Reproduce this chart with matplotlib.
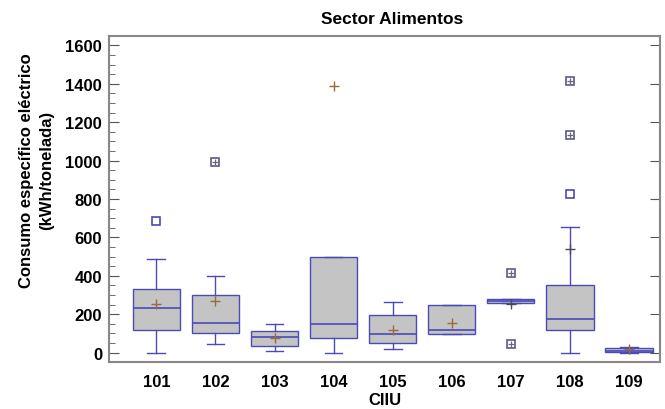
import numpy as np
import matplotlib.pyplot as plt
from matplotlib.ticker import MultipleLocator

plt.rcParams['font.family'] = ['Liberation Sans', 'DejaVu Sans']
plt.rcParams['font.weight'] = 'bold'

# resumen por código CIIU (kWh/tonelada)
ciiu = ['101', '102', '103', '104', '105', '106', '107', '108', '109']
whislo = [0, 43, 7, 0, 19, 97, 258, 0, 0]
q1 = [118, 101, 33, 78, 52, 97, 258, 118, 3]
med = [232, 156, 80, 151, 95, 116, 269, 177, 8]
q3 = [331, 300, 115, 498, 198, 250, 278, 354, 26]
whishi = [489, 401, 147, 498, 264, 250, 278, 656, 30]
mean = [255, 267, 76, 1388, 118, 154, 253, 541, 17]

# atípicos (cuadro) y atípicos lejanos (cuadro con cruz)
out_cat = ['101', '108']
out_val = [687, 829]
far_cat = ['102', '107', '107', '108', '108']
far_val = [991, 415, 43, 1135, 1414]

blue = '#4a4ab8'
gray_box = '#c4c4c4'
mean_col = '#9a6a3a'

stats = []
for i in range(len(ciiu)):
    stats.append(dict(whislo=whislo[i], q1=q1[i], med=med[i], q3=q3[i],
                      whishi=whishi[i], mean=mean[i], fliers=[]))

fig = plt.figure(figsize=(6.65, 4.10), dpi=100)
ax = fig.add_axes([0.164, 0.115, 0.829, 0.795])

pos = np.arange(1, len(ciiu) + 1)
bp = ax.bxp(stats, positions=pos, widths=0.8, capwidths=0.3, showmeans=True,
            patch_artist=True,
            boxprops=dict(facecolor=gray_box, edgecolor=blue, linewidth=1.0),
            medianprops=dict(color=blue, linewidth=1.2),
            whiskerprops=dict(color=blue, linewidth=1.0),
            capprops=dict(color=blue, linewidth=1.0),
            meanprops=dict(marker='+', markeredgecolor=mean_col, markersize=7,
                           markeredgewidth=1.0))
# las medias que caen sobre líneas azules se ven más oscuras
for k in (6, 7):
    bp['means'][k].set_markeredgecolor('#4a4a5a')

idx = {c: k + 1 for k, c in enumerate(ciiu)}
ax.plot([idx[c] for c in out_cat], out_val, 's', ms=6, mfc='none',
        mec=blue, mew=1.2, ls='none')
ax.plot([idx[c] for c in far_cat], far_val, 's', ms=6, mfc='none',
        mec='#5a5a8a', mew=1.2, ls='none')
ax.plot([idx[c] for c in far_cat], far_val, '+', ms=5, mec='#6a6a6a',
        mew=0.9, ls='none')

ax.set_xlim(0.2, 9.53)
ax.set_ylim(-48, 1650)
ax.set_xticks(pos)
ax.set_xticklabels(ciiu)
ax.yaxis.set_major_locator(MultipleLocator(200))
ax.yaxis.set_minor_locator(MultipleLocator(50))
ax.tick_params(axis='x', length=0, labelsize=12, pad=9)
ax.tick_params(axis='y', which='major', direction='in', length=7,
               color='#555555', labelsize=12, right=True, pad=5)
ax.tick_params(axis='y', which='minor', direction='in', length=4,
               color='#555555', right=False)
for s in ax.spines.values():
    s.set_color('#888888')
    s.set_linewidth(1.5)

ax.set_title('Sector Alimentos', fontsize=12.5, fontweight='bold', pad=9,
             x=0.513)
ax.set_xlabel('CIIU', fontsize=12, fontweight='bold', labelpad=2)
ax.set_ylabel('Consumo específico eléctrico\n(kWh/tonelada)', fontsize=12,
              fontweight='bold', linespacing=1.4)
ax.yaxis.set_label_coords(-0.1, 0.59)

fig.savefig('out.png', dpi=100)
